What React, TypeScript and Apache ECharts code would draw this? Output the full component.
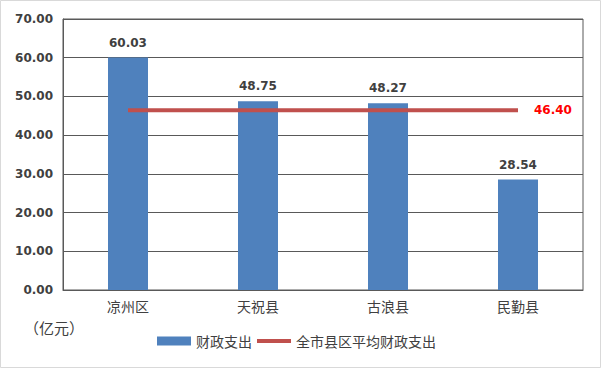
import React, { useEffect, useRef } from "react";
import * as echarts from "echarts";

const categories = ["凉州区", "天祝县", "古浪县", "民勤县"];
const spending = [60.03, 48.75, 48.27, 28.54];
const averageValue = 46.4;
const average = categories.map(() => averageValue);
const yTicks = { min: 0, max: 70, interval: 10 };

export default function App() {
  const ref = useRef<HTMLDivElement>(null);
  useEffect(() => {
    document.body.style.margin = "0";
    const chart = echarts.init(ref.current!, null, { renderer: "svg" });
    const font = "'Microsoft YaHei', 'Noto Sans CJK SC', sans-serif";
    chart.setOption({
      animation: false,
      backgroundColor: "#ffffff",
      grid: { left: 63, right: 19, top: 19, bottom: 79, show: true, borderColor: "#595959", borderWidth: 1 },
      xAxis: {
        type: "category",
        data: categories,
        axisLine: { show: true, lineStyle: { color: "#595959", width: 1 } },
        axisTick: { show: false },
        axisLabel: { color: "#404040", fontSize: 14, fontFamily: font, margin: 9 },
      },
      yAxis: {
        type: "value",
        min: yTicks.min,
        max: yTicks.max,
        interval: yTicks.interval,
        axisLine: { show: true, lineStyle: { color: "#595959" } },
        axisTick: { show: false },
        splitLine: { lineStyle: { color: "#595959", width: 1 } },
        axisLabel: {
          color: "#404040",
          fontSize: 12,
          fontWeight: "bold",
          fontFamily: "Verdana, 'DejaVu Sans', sans-serif",
          margin: 10,
          formatter: (v: number) => v.toFixed(2),
        },
      },
      legend: {
        bottom: 16,
        left: 152,
        itemGap: 3,
        textStyle: { color: "#404040", fontSize: 14, fontFamily: font },
        data: [
          { name: "财政支出", icon: "rect", itemStyle: { color: "#4F81BD" } },
          { name: "全市县区平均财政支出", itemStyle: { opacity: 0 }, lineStyle: { color: "#C0504D", width: 4 } },
        ],
        itemWidth: 34,
        itemHeight: 9,
      },
      graphic: [
        {
          type: "text",
          left: 24,
          top: 320,
          style: { text: "（亿元）", fill: "#404040", fontSize: 15, fontFamily: font },
        },
        {
          type: "rect",
          shape: { x: 0.5, y: 0.5, width: 600, height: 367 },
          style: { fill: "none", stroke: "#d9d9d9", lineWidth: 1 },
          silent: true,
        },
      ],
      series: [
        {
          name: "财政支出",
          type: "bar",
          data: spending,
          barWidth: 40,
          itemStyle: { color: "#4F81BD" },
          label: {
            show: true,
            position: "top",
            distance: 9,
            color: "#404040",
            fontWeight: "bold",
            fontSize: 12,
            fontFamily: "Verdana, 'DejaVu Sans', sans-serif",
            formatter: (p: any) => p.value.toFixed(2),
          },
        },
        {
          name: "全市县区平均财政支出",
          type: "line",
          data: average,
          symbol: "none",
          lineStyle: { color: "#C0504D", width: 4 },
          itemStyle: { color: "#C0504D" },
          endLabel: {
            show: true,
            color: "#FF0000",
            fontWeight: "bold",
            fontSize: 12,
            fontFamily: "Verdana, 'DejaVu Sans', sans-serif",
            distance: 16,
            formatter: (p: any) => Number(p.value).toFixed(2),
          },
        },
      ],
    });
    return () => chart.dispose();
  }, []);
  return <div ref={ref} style={{ position: "absolute", left: 0, top: 0, width: 602, height: 369 }} />;
}
